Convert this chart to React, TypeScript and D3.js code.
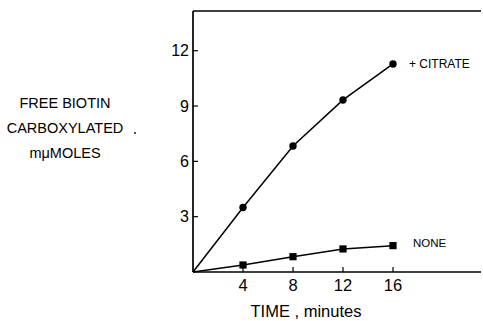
import React from "react";
import * as d3 from "d3";

const times = [0, 4, 8, 12, 16];
const citrate = [0, 3.5, 6.83, 9.33, 11.28];
const none = [0, 0.38, 0.83, 1.25, 1.43];
const xTicks = [4, 8, 12, 16];
const yTicks = [3, 6, 9, 12];
const yLabel = ["FREE BIOTIN", "CARBOXYLATED", "m\u03bcMOLES"];

const W = 483;
const H = 321;
const font = "'Liberation Sans', Arial, sans-serif";

export default function App() {
  const x = d3.scaleLinear().domain([0, 16]).range([193, 393]);
  const y = d3.scaleLinear().domain([0, 12]).range([272, 50.7]);
  const top = y(14.15);
  const right = 481;

  const line = d3
    .line<number>()
    .x((_, i) => x(times[i]))
    .y((d) => y(d));

  return (
    <svg
      width={W}
      height={H}
      style={{ position: "absolute", left: 0, top: 0, background: "#fff" }}
      fontFamily={font}
    >
      {/* frame */}
      <line x1={x(0)} x2={x(0)} y1={top} y2={y(0)} stroke="#000" strokeWidth={1.7} />
      <line x1={x(0)} x2={right} y1={top} y2={top} stroke="#000" strokeWidth={1.4} />
      <line x1={x(0)} x2={right} y1={y(0)} y2={y(0)} stroke="#000" strokeWidth={1.7} />

      {yTicks.map((t) => (
        <g key={"y" + t}>
          <line x1={x(0)} x2={x(0) + 5} y1={y(t)} y2={y(t)} stroke="#000" strokeWidth={1.2} />
          <text x={x(0) - 4} y={y(t)} dy="0.36em" textAnchor="end" fontSize={16}>
            {t}
          </text>
        </g>
      ))}
      {xTicks.map((t) => (
        <g key={"x" + t}>
          <line x1={x(t)} x2={x(t)} y1={y(0)} y2={y(0) - 5} stroke="#000" strokeWidth={1.2} />
          <text x={x(t)} y={y(0) + 19} textAnchor="middle" fontSize={16.5}>
            {t}
          </text>
        </g>
      ))}

      <path d={line(citrate) || ""} fill="none" stroke="#000" strokeWidth={1.5} />
      <path d={line(none) || ""} fill="none" stroke="#000" strokeWidth={1.5} />

      {citrate.slice(1).map((v, i) => (
        <circle key={"c" + i} cx={x(times[i + 1])} cy={y(v)} r={3.7} fill="#000" />
      ))}
      {none.slice(1).map((v, i) => (
        <rect
          key={"n" + i}
          x={x(times[i + 1]) - 3.6}
          y={y(v) - 3.6}
          width={7.2}
          height={7.2}
          fill="#000"
        />
      ))}

      <text x={409} y={y(citrate[4])} dy="0.36em" fontSize={12}>
        + CITRATE
      </text>
      <text x={413} y={243} dy="0.36em" fontSize={11.5}>
        NONE
      </text>

      {yLabel.map((s, i) => (
        <text key={s} x={65} y={103 + i * 24.7} dy="0.36em" textAnchor="middle" fontSize={14.5}>
          {s}
        </text>
      ))}
      <circle cx={135} cy={133} r={0.9} fill="#000" />

      <text x={306} y={311.5} dy="0.36em" textAnchor="middle" fontSize={16.5}>
        TIME , minutes
      </text>
    </svg>
  );
}
